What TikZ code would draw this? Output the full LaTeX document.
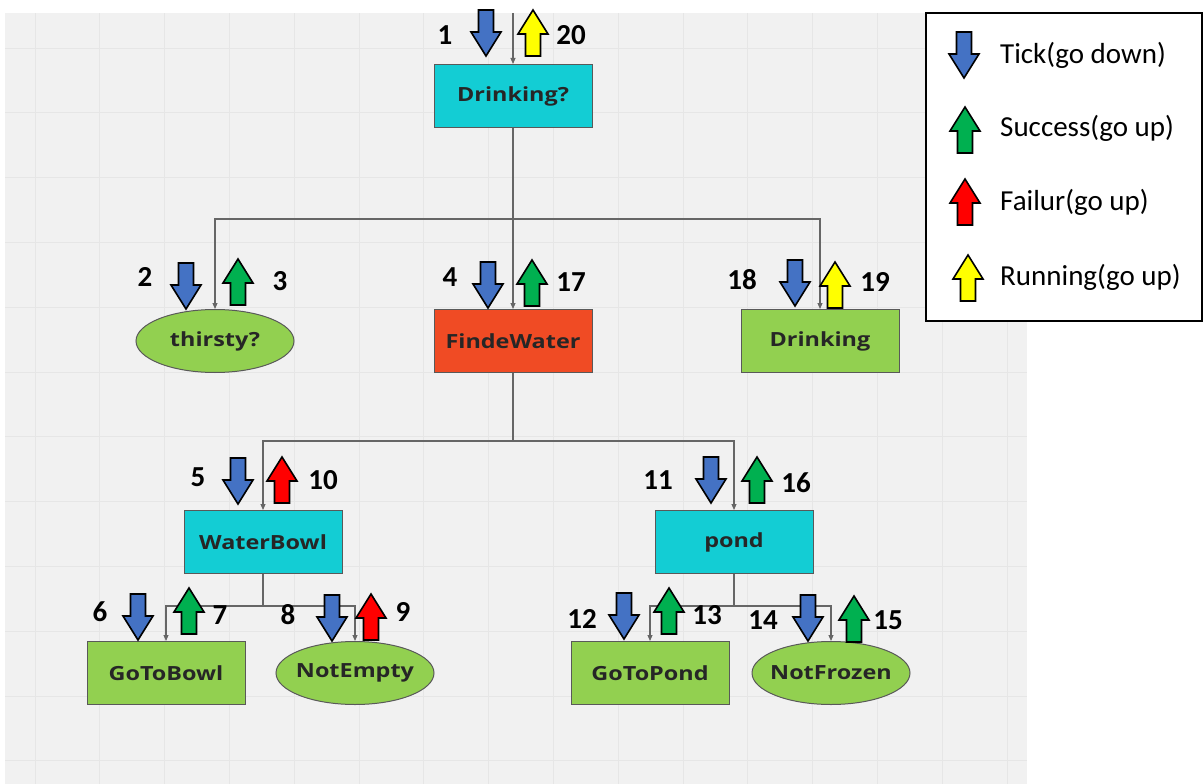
\documentclass[tikz,border=0pt]{standalone}
\usepackage{fontspec}
\setmainfont{Carlito}
\newfontfamily\nodefont{Open Sans}[FakeStretch=1.2]
\usetikzlibrary{arrows.meta,shapes.geometric}

\definecolor{btcyan}{RGB}{19,205,212}
\definecolor{btgreen}{RGB}{146,208,80}
\definecolor{btred}{RGB}{240,75,36}
\definecolor{tickblue}{RGB}{68,114,196}
\definecolor{okgreen}{RGB}{0,176,80}
\definecolor{failred}{RGB}{255,0,0}
\definecolor{runyellow}{RGB}{255,255,0}
\definecolor{paper}{RGB}{241,241,241}
\definecolor{gridcol}{RGB}{230,230,230}

\tikzset{
  bt/.style={draw=black!65, line width=1pt, minimum width=158pt, minimum height=63pt,
    inner sep=0pt, text=black!85, font=\nodefont\bfseries\fontsize{19.5}{22}\selectfont},
  seq/.style={bt, rectangle, fill=btcyan},
  sel/.style={bt, rectangle, fill=btred},
  act/.style={bt, rectangle, fill=btgreen},
  cond/.style={bt, ellipse, fill=btgreen, inner xsep=-20pt, inner ysep=-4pt},
  num/.style={inner sep=0pt, font=\bfseries\fontsize{29}{31}\selectfont},
  legtext/.style={inner sep=0pt, anchor=west, font=\fontsize{29}{32}\selectfont},
  link/.style={draw=black!60, line width=1.1pt},
  tip/.style={link, -{Triangle[length=6pt,width=5pt]}},
  downarr/.pic={\filldraw[line width=1.6pt, pic actions]
    (-7.5,0) -- (7.5,0) -- (7.5,22) -- (15,22) -- (0,46) -- (-15,22) -- (-7.5,22) -- cycle;},
  uparr/.pic={\filldraw[line width=1.6pt, pic actions]
    (0,0) -- (15,24) -- (7.5,24) -- (7.5,46) -- (-7.5,46) -- (-7.5,24) -- (-15,24) -- cycle;}
}

\begin{document}
\begin{tikzpicture}[x=1pt, y=-1pt]
  \useasboundingbox (0,0) rectangle (1203,784);
  % background with grid
  \fill[paper] (5,13) rectangle (1027,784);
  \foreach \i in {0,...,15}
    \draw[gridcol, line width=0.8pt] (35+64.8*\i,13) -- (35+64.8*\i,784);
  \foreach \j in {0,...,11}
    \draw[gridcol, line width=0.8pt] (5,48+64.8*\j) -- (1027,48+64.8*\j);

  % tree nodes
  \node[seq]  (dq)        at (513,96)  {Drinking?};
  \node[cond] (thirsty)   at (215,341) {thirsty?};
  \node[sel]  (finde)     at (513,341) {FindeWater};
  \node[act]  (drink)     at (820,341) {Drinking};
  \node[seq]  (bowl)      at (263,542) {WaterBowl};
  \node[seq]  (pond)      at (734,542) {pond};
  \node[act]  (gobowl)    at (166,673) {GoToBowl};
  \node[cond] (notempty)  at (355,673) {NotEmpty};
  \node[act]  (gopond)    at (650,673) {GoToPond};
  \node[cond] (notfrozen) at (831,673) {NotFrozen};

  % connectors
  \coordinate (root) at (513,13);
  \coordinate (b1) at (513,219);
  \coordinate (b2) at (513,441);
  \coordinate (b3) at (263,606);
  \coordinate (b4) at (734,606);
  \begin{scope}[link]
    \draw[tip] (root) -- (dq.north);
    \draw (dq.south) -- (b1);
    \draw[tip] (b1) -| (thirsty.north);
    \draw[tip] (b1) -- (finde.north);
    \draw[tip] (b1) -| (drink.north);
    \draw (finde.south) -- (b2);
    \draw[tip] (b2) -| (bowl.north);
    \draw[tip] (b2) -| (pond.north);
    \draw (bowl.south) -- (b3);
    \draw[tip] (b3) -| (gobowl.north);
    \draw[tip] (b3) -| (notempty.north);
    \draw (pond.south) -- (b4);
    \draw[tip] (b4) -| (gopond.north);
    \draw[tip] (b4) -| (notfrozen.north);
  \end{scope}

  % tick / result markers
  \pic[fill=tickblue]  at (486,10)  {downarr};
  \pic[fill=runyellow] at (533,10)  {uparr};
  \pic[fill=tickblue]  at (186,263) {downarr};
  \pic[fill=okgreen]   at (238,259) {uparr};
  \pic[fill=tickblue]  at (488,262) {downarr};
  \pic[fill=okgreen]   at (532,260) {uparr};
  \pic[fill=tickblue]  at (795,260) {downarr};
  \pic[fill=runyellow] at (835,262) {uparr};
  \pic[fill=tickblue]  at (238,458) {downarr};
  \pic[fill=failred]   at (282,457) {uparr};
  \pic[fill=tickblue]  at (711,457) {downarr};
  \pic[fill=okgreen]   at (757,457) {uparr};
  \pic[fill=tickblue]  at (138,594) {downarr};
  \pic[fill=okgreen]   at (189,588) {uparr};
  \pic[fill=tickblue]  at (332,595) {downarr};
  \pic[fill=failred]   at (371,594) {uparr};
  \pic[fill=tickblue]  at (624,593) {downarr};
  \pic[fill=okgreen]   at (669,588) {uparr};
  \pic[fill=tickblue]  at (808,595) {downarr};
  \pic[fill=okgreen]   at (854,596) {uparr};

  % order numbers
  \node[num] (n1)  at (445,35)  {1};
  \node[num] (n20) at (571,35)  {20};
  \node[num] (n2)  at (145,277) {2};
  \node[num] (n3)  at (280,281) {3};
  \node[num] (n4)  at (450,277) {4};
  \node[num] (n17) at (571,282) {17};
  \node[num] (n18) at (742,280) {18};
  \node[num] (n19) at (875,282) {19};
  \node[num] (n5)  at (198,477) {5};
  \node[num] (n10) at (323,480) {10};
  \node[num] (n11) at (658,480) {11};
  \node[num] (n16) at (796,483) {16};
  \node[num] (n6)  at (100,612) {6};
  \node[num] (n7)  at (220,615) {7};
  \node[num] (n8)  at (288,615) {8};
  \node[num] (n9)  at (403,612) {9};
  \node[num] (n12) at (582,619) {12};
  \node[num] (n13) at (707,615) {13};
  \node[num] (n14) at (763,620) {14};
  \node[num] (n15) at (888,620) {15};

  % legend
  \draw[line width=2pt, fill=white] (926,13) rectangle (1202,321);
  \pic[fill=tickblue]  at (964,32)  {downarr};
  \pic[fill=okgreen]   at (965,107) {uparr};
  \pic[fill=failred]   at (965,179) {uparr};
  \pic[fill=runyellow] at (968,255) {uparr};
  \node[legtext] (l1) at (1000,55)  {Tick(go down)};
  \node[legtext] (l2) at (1000,128) {Success(go up)};
  \node[legtext] (l3) at (1000,202) {Failur(go up)};
  \node[legtext] (l4) at (1000,277) {Running(go up)};
\end{tikzpicture}
\end{document}
